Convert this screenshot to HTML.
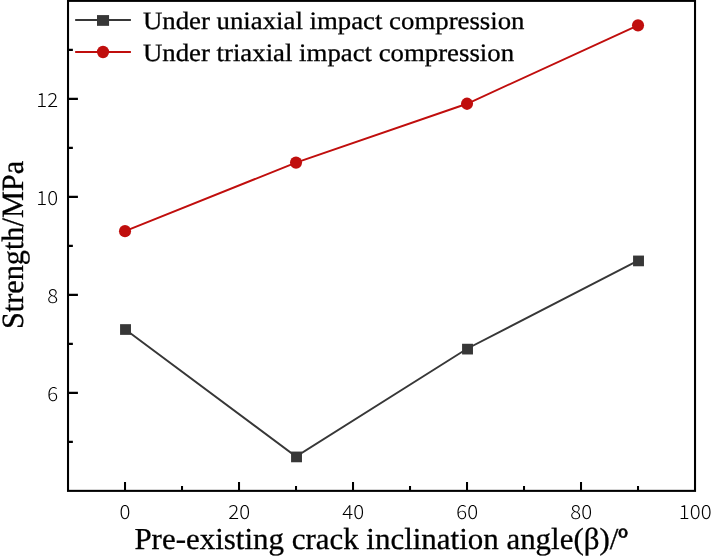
<!DOCTYPE html>
<html><head><meta charset="utf-8"><title>chart</title>
<style>html,body{margin:0;padding:0;background:#fff}svg{display:block;will-change:transform}text{text-rendering:geometricPrecision}</style></head>
<body>
<svg xmlns="http://www.w3.org/2000/svg" width="711" height="556" viewBox="0 0 711 556">
<rect x="0" y="0" width="711" height="556" fill="#fff"/>
<path d="M125.02 490.87 V481.97 M239.02 490.87 V481.97 M353.02 490.87 V481.97 M467.02 490.87 V481.97 M581.02 490.87 V481.97 M182.02 490.87 V486.07 M296.02 490.87 V486.07 M410.02 490.87 V486.07 M524.02 490.87 V486.07 M638.02 490.87 V486.07 M68.02 392.87 H77.92 M68.02 294.87 H77.92 M68.02 196.87 H77.92 M68.02 98.87 H77.92 M68.02 441.87 H72.87 M68.02 343.87 H72.87 M68.02 245.87 H72.87 M68.02 147.87 H72.87 M68.02 49.87 H72.87" stroke="#000" stroke-width="2.05" fill="none"/>
<rect x="68.02" y="0.87" width="627.00" height="490.00" fill="none" stroke="#000" stroke-width="2.08"/>
<polyline fill="none" stroke="#373737" stroke-width="1.9" points="125.02,329.17 296.02,456.57 467.02,348.77 638.02,260.57"/>
<polyline fill="none" stroke="#c00e0d" stroke-width="1.9" points="125.02,231.17 296.02,162.57 467.02,103.77 638.02,25.37"/>
<rect x="120.07" y="324.17" width="10.9" height="10.7" fill="#373737"/>
<rect x="291.07" y="451.57" width="10.9" height="10.7" fill="#373737"/>
<rect x="462.07" y="343.77" width="10.9" height="10.7" fill="#373737"/>
<rect x="633.07" y="255.57" width="10.9" height="10.7" fill="#373737"/>
<ellipse cx="125.02" cy="231.17" rx="6.05" ry="6.15" fill="#c00e0d"/>
<ellipse cx="296.02" cy="162.57" rx="6.05" ry="6.15" fill="#c00e0d"/>
<ellipse cx="467.02" cy="103.77" rx="6.05" ry="6.15" fill="#c00e0d"/>
<ellipse cx="638.02" cy="25.37" rx="6.05" ry="6.15" fill="#c00e0d"/>
<path d="M75.16 19.9 H130.9" stroke="#373737" stroke-width="2"/>
<rect x="97.0" y="15.09" width="12.06" height="10.76" fill="#373737"/>
<path d="M75.16 52 H130.9" stroke="#c00e0d" stroke-width="2"/>
<ellipse cx="103.03" cy="52" rx="6.05" ry="6.2" fill="#c00e0d"/>
<g font-family="'Liberation Serif', serif" font-size="25" fill="#000" stroke="#000" stroke-width="0.3">
<text transform="translate(142.9 28.5) scale(1.0715 1)">Under uniaxial impact compression</text>
<text transform="translate(142.9 60.9) scale(1.0715 1)">Under triaxial impact compression</text>
</g>
<g font-family="'Liberation Serif', serif" fill="#000" stroke="#000" stroke-width="0.3">
<text font-size="30.5" transform="translate(134.4 548.5) scale(1.0144 1)">Pre-existing crack inclination angle(β)/<tspan dy="0.8" stroke-width="0.7">º</tspan></text>
<text font-size="30.9" transform="translate(22.8 245) rotate(-90) scale(0.980 1)" text-anchor="middle">Strength/MPa</text>
</g>
<g font-family="'Noto Sans CJK SC', 'Liberation Sans', sans-serif" font-weight="300" font-size="19.4" letter-spacing="0.1" fill="#000">
<text transform="translate(125.12 519.1) scale(1.05 1)" text-anchor="middle">0</text>
<text transform="translate(239.12 519.1) scale(1.05 1)" text-anchor="middle">20</text>
<text transform="translate(353.12 519.1) scale(1.05 1)" text-anchor="middle">40</text>
<text transform="translate(467.12 519.1) scale(1.05 1)" text-anchor="middle">60</text>
<text transform="translate(581.12 519.1) scale(1.05 1)" text-anchor="middle">80</text>
<text transform="translate(695.12 519.1) scale(1.05 1)" text-anchor="middle">100</text>
<text transform="translate(58.35 400.97) scale(1.05 1)" text-anchor="end">6</text>
<text transform="translate(58.35 302.97) scale(1.05 1)" text-anchor="end">8</text>
<text transform="translate(58.35 204.97) scale(1.05 1)" text-anchor="end">10</text>
<text transform="translate(58.35 106.97) scale(1.05 1)" text-anchor="end">12</text>
</g>
</svg>
</body></html>
